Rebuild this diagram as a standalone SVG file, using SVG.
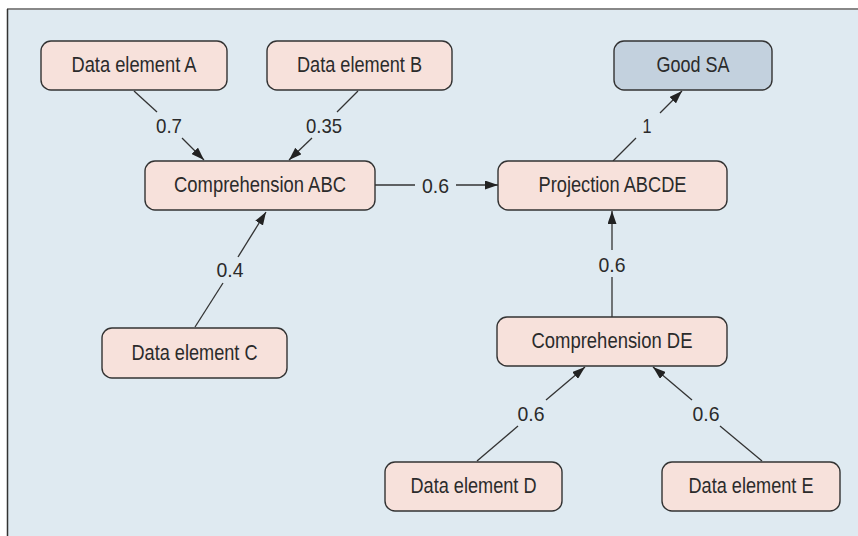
<svg xmlns="http://www.w3.org/2000/svg" width="858" height="536" viewBox="0 0 858 536">
<style>
.node rect{fill:#f7e1db;stroke:#333;stroke-width:1.4}
.node.goal rect{fill:#c3d1de}
.node text{font-family:"Liberation Sans",Arial,sans-serif;font-size:22px;fill:#2b2b2b;text-anchor:middle}
.lbl{font-family:"Liberation Sans",Arial,sans-serif;font-size:21px;fill:#2b2b2b;text-anchor:middle}
#connectors line{stroke:#333;stroke-width:1.3;fill:none}
</style>
<defs>
<marker id="arr" markerUnits="userSpaceOnUse" markerWidth="13" markerHeight="9" refX="13" refY="4.5" orient="auto">
<path d="M0,0 L13,4.5 L0,9 z" fill="#222"/>
</marker>
</defs>
<rect x="7" y="9" width="851" height="527" fill="#dfeaf1"/>
<line x1="7" y1="9" x2="858" y2="9" stroke="#888" stroke-width="2"/>
<line x1="7.5" y1="9" x2="7.5" y2="536" stroke="#333" stroke-width="1.5"/>

<g id="connectors">
<line x1="134" y1="91" x2="157" y2="112"/>
<line x1="182" y1="138" x2="204" y2="160" marker-end="url(#arr)"/>
<text class="lbl" x="169" y="133" textLength="26" lengthAdjust="spacingAndGlyphs">0.7</text>

<line x1="358" y1="91" x2="337" y2="112"/>
<line x1="312" y1="138" x2="289" y2="160" marker-end="url(#arr)"/>
<text class="lbl" x="324" y="133" textLength="36" lengthAdjust="spacingAndGlyphs">0.35</text>

<line x1="375" y1="185" x2="415" y2="185"/>
<line x1="456" y1="185" x2="498" y2="185" marker-end="url(#arr)"/>
<text class="lbl" x="435.5" y="192.5" textLength="27" lengthAdjust="spacingAndGlyphs">0.6</text>

<line x1="613" y1="161" x2="636" y2="138"/>
<line x1="660" y1="113" x2="682" y2="91" marker-end="url(#arr)"/>
<text class="lbl" x="647" y="133" textLength="9" lengthAdjust="spacingAndGlyphs">1</text>

<line x1="195" y1="327" x2="223" y2="283"/>
<line x1="238" y1="257" x2="266" y2="212" marker-end="url(#arr)"/>
<text class="lbl" x="230" y="277" textLength="27" lengthAdjust="spacingAndGlyphs">0.4</text>

<line x1="612" y1="317" x2="612" y2="277"/>
<line x1="612" y1="250" x2="612" y2="211" marker-end="url(#arr)"/>
<text class="lbl" x="612" y="271.5" textLength="27" lengthAdjust="spacingAndGlyphs">0.6</text>

<line x1="477" y1="461" x2="518" y2="426"/>
<line x1="546" y1="400" x2="585" y2="367" marker-end="url(#arr)"/>
<text class="lbl" x="531" y="420.5" textLength="27" lengthAdjust="spacingAndGlyphs">0.6</text>

<line x1="762" y1="461" x2="720" y2="426"/>
<line x1="692" y1="400" x2="653" y2="367" marker-end="url(#arr)"/>
<text class="lbl" x="706" y="420.5" textLength="27" lengthAdjust="spacingAndGlyphs">0.6</text>
</g>

<g id="node-a" class="node"><rect x="41" y="41" width="186" height="49" rx="10"/><text x="134" y="72" textLength="125" lengthAdjust="spacingAndGlyphs">Data element A</text></g>
<g id="node-b" class="node"><rect x="267" y="41" width="185" height="49" rx="10"/><text x="359.5" y="72" textLength="125" lengthAdjust="spacingAndGlyphs">Data element B</text></g>
<g id="node-goodsa" class="node goal"><rect x="614" y="41" width="158" height="49" rx="10"/><text x="693" y="72" textLength="73" lengthAdjust="spacingAndGlyphs">Good SA</text></g>
<g id="node-compabc" class="node"><rect x="145" y="161" width="230" height="49" rx="10"/><text x="260" y="192" textLength="172" lengthAdjust="spacingAndGlyphs">Comprehension ABC</text></g>
<g id="node-proj" class="node"><rect x="498" y="161" width="229" height="49" rx="10"/><text x="612.5" y="192" textLength="148" lengthAdjust="spacingAndGlyphs">Projection ABCDE</text></g>
<g id="node-c" class="node"><rect x="102" y="328" width="185" height="50" rx="10"/><text x="194.5" y="360" textLength="126" lengthAdjust="spacingAndGlyphs">Data element C</text></g>
<g id="node-compde" class="node"><rect x="497" y="317" width="230" height="49" rx="10"/><text x="612" y="348" textLength="161" lengthAdjust="spacingAndGlyphs">Comprehension DE</text></g>
<g id="node-d" class="node"><rect x="385" y="462" width="177" height="49" rx="10"/><text x="473.5" y="492.5" textLength="126" lengthAdjust="spacingAndGlyphs">Data element D</text></g>
<g id="node-e" class="node"><rect x="662" y="462" width="178" height="49" rx="10"/><text x="751" y="492.5" textLength="125" lengthAdjust="spacingAndGlyphs">Data element E</text></g>
</svg>
